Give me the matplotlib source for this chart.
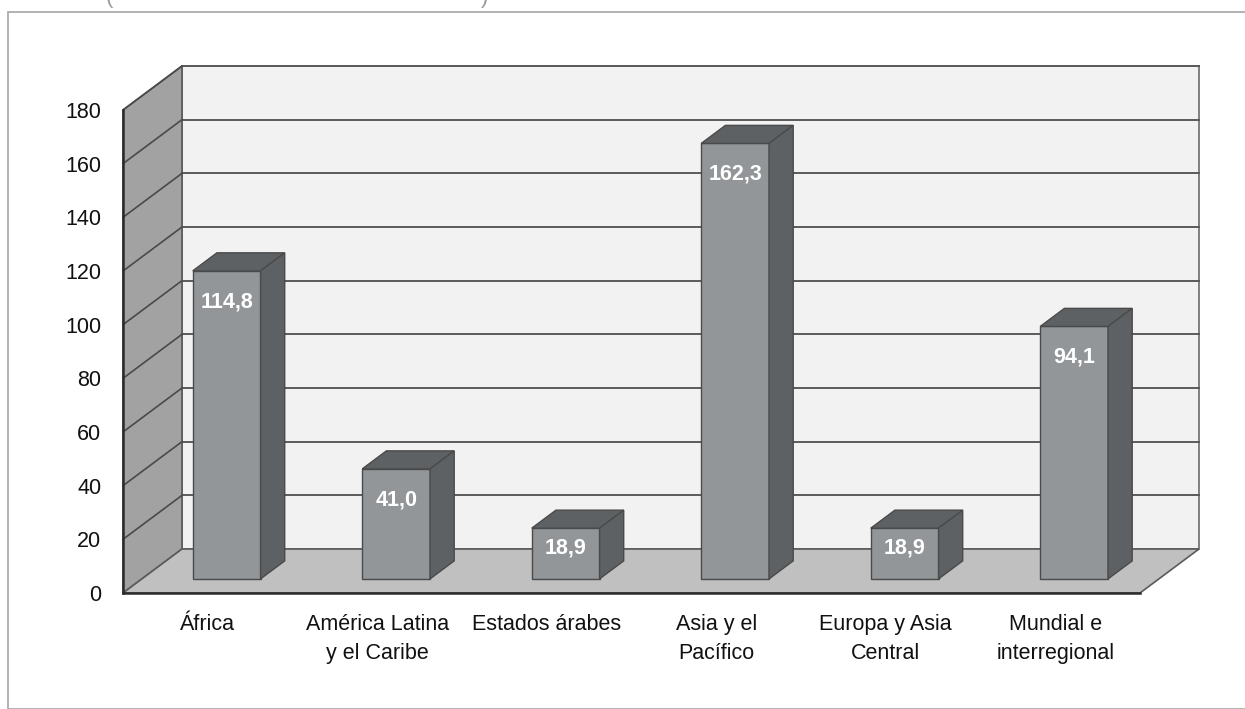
import matplotlib
matplotlib.use("Agg")
import matplotlib.pyplot as plt
from matplotlib.patches import Polygon, Rectangle

categories = ["África", "América Latina\ny el Caribe", "Estados árabes",
              "Asia y el\nPacífico", "Europa y Asia\nCentral", "Mundial e\ninterregional"]
values = [114.8, 41.0, 18.9, 162.3, 18.9, 94.1]
value_labels = ["114,8", "41,0", "18,9", "162,3", "18,9", "94,1"]
yticks = [0, 20, 40, 60, 80, 100, 120, 140, 160, 180]

W, H = 1245, 709
plt.rcParams['font.family'] = ['Liberation Sans', 'DejaVu Sans']
fig = plt.figure(figsize=(W / 100, H / 100), dpi=100)

# outer frame
fig.patches.append(Rectangle((8 / W, 0), 1.0, 1 - 12 / H, transform=fig.transFigure,
                             fill=False, edgecolor='#a6a6a6', lw=1.2))
fig.text(106 / W, 1 - 3 / H, "(", fontsize=16, color='#9a9a9a', ha='left', va='baseline')
fig.text(481 / W, 1 - 3 / H, ")", fontsize=16, color='#9a9a9a', ha='left', va='baseline')

ax = fig.add_axes([123 / W, 1 - 593 / H, (1140 - 123) / W, (593 - 110) / H])
n = len(categories)
ax.set_xlim(-0.5, n - 0.5)
ax.set_ylim(0, 180)

DX = 0.348   # depth offset in category units
DY = 16.4    # depth offset in value units
d1, d2 = 0.32, 0.73
bw = 0.4

x0, x1 = -0.5, n - 0.5
ymax = yticks[-1]

# back wall
ax.add_patch(Polygon([(x0 + DX, DY), (x1 + DX, DY), (x1 + DX, ymax + DY), (x0 + DX, ymax + DY)],
                     closed=True, facecolor='#f2f2f2', edgecolor='#6b6b6b', lw=1.2,
                     clip_on=False, zorder=1))
# left wall
ax.add_patch(Polygon([(x0, 0), (x0, ymax), (x0 + DX, ymax + DY), (x0 + DX, DY)],
                     closed=True, facecolor='#a2a2a2', edgecolor='#5a5a5a', lw=1.2,
                     clip_on=False, zorder=1))
# gridlines
for g in yticks[1:]:
    ax.plot([x0 + DX, x1 + DX], [g + DY, g + DY], color='#5a5a5a', lw=1.4,
            clip_on=False, zorder=2)
    ax.plot([x0, x0 + DX], [g, g + DY], color='#4a4a4a', lw=1.2, clip_on=False, zorder=2)
# floor
ax.add_patch(Polygon([(x0, 0), (x1, 0), (x1 + DX, DY), (x0 + DX, DY)],
                     closed=True, facecolor='#c0c0c0', edgecolor='#5a5a5a', lw=1.2,
                     clip_on=False, zorder=3))

# bars
front = '#939699'
dark = '#5d6164'
edge = '#4a4a4a'
ddx = (d2 - d1) * DX
ddy = (d2 - d1) * DY
for i, (v, lab) in enumerate(zip(values, value_labels)):
    bx0 = i - bw / 2 + d1 * DX
    bx1 = i + bw / 2 + d1 * DX
    yb = d1 * DY
    yt = yb + v
    ax.add_patch(Polygon([(bx0, yb), (bx1, yb), (bx1, yt), (bx0, yt)], closed=True,
                         facecolor=front, edgecolor=edge, lw=1.0, clip_on=False, zorder=5))
    ax.add_patch(Polygon([(bx0, yt), (bx1, yt), (bx1 + ddx, yt + ddy), (bx0 + ddx, yt + ddy)],
                         closed=True, facecolor=dark, edgecolor=edge, lw=1.0,
                         clip_on=False, zorder=5))
    ax.add_patch(Polygon([(bx1, yb), (bx1, yt), (bx1 + ddx, yt + ddy), (bx1 + ddx, yb + ddy)],
                         closed=True, facecolor=dark, edgecolor=edge, lw=1.0,
                         clip_on=False, zorder=5))
    off = min(11.5, v * 0.4)
    ax.text((bx0 + bx1) / 2, yt - off, lab, ha='center', va='center', color='white',
            fontsize=15.5, fontweight='bold', zorder=6)

# axes styling
for s in ['top', 'right']:
    ax.spines[s].set_visible(False)
for s in ['left', 'bottom']:
    ax.spines[s].set_color('#2b2b2b')
    ax.spines[s].set_linewidth(1.8)
    ax.spines[s].set_zorder(7)
ax.set_facecolor('none')
ax.set_yticks(yticks)
ax.set_yticklabels([str(t) for t in yticks], fontsize=15.5)
ax.set_xticks(range(n))
ax.set_xticklabels(categories, fontsize=15.5, linespacing=1.5)
ax.tick_params(axis='both', length=0, colors='#111111')
ax.tick_params(axis='y', pad=15.5)
ax.tick_params(axis='x', pad=15)

fig.savefig("out.png", dpi=100)
